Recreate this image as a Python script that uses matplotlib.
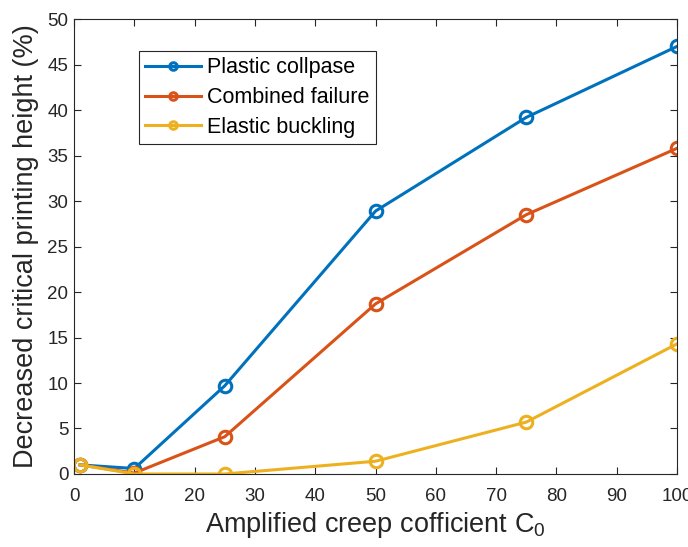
import numpy as np
import matplotlib
matplotlib.use("Agg")
import matplotlib.pyplot as plt

plt.rcParams['font.family'] = ['Liberation Sans', 'DejaVu Sans']
plt.rcParams['mathtext.fontset'] = 'custom'
plt.rcParams['mathtext.rm'] = 'Liberation Sans'

c0 = [1, 10, 25, 50, 75, 100]
plastic = [1.0, 0.6, 9.7, 28.9, 39.2, 47.0]
combined = [1.0, 0.1, 4.1, 18.7, 28.5, 35.8]
elastic = [1.0, 0.0, 0.0, 1.4, 5.7, 14.3]

labels = ["Plastic collpase", "Combined failure", "Elastic buckling"]
colors = ['#0072BD', '#D95319', '#EDB120']

fig = plt.figure(figsize=(6.88, 5.47), dpi=100)
ax = fig.add_axes([0.1076, 0.1335, 0.8764, 0.8315])

for y, lab, col in zip([plastic, combined, elastic], labels, colors):
    ax.plot(c0, y, '-o', color=col, lw=2.2, ms=9, mfc='none', mew=2.2, label=lab)

ax.set_xlim(0, 100)
ax.set_ylim(0, 50)
ax.set_xticks(np.arange(0, 101, 10))
ax.set_yticks(np.arange(0, 51, 5))
ax.tick_params(direction='in', top=True, right=True, length=5, width=0.8,
               labelsize=13.5, colors='#262626', pad=4)
ax.tick_params(axis='x', pad=10)
for s in ax.spines.values():
    s.set_color('#262626')
    s.set_linewidth(0.8)

ax.set_xlabel(r'Amplified creep cofficient C$_{\mathrm{0}}$', fontsize=19.5, color='#262626', labelpad=4)
ax.set_ylabel('Decreased critical printing height (%)', fontsize=19.5, color='#262626', labelpad=6)

leg = ax.legend(loc='upper left', bbox_to_anchor=(0.107, 0.93), fontsize=15.5,
                fancybox=False, edgecolor='#262626', framealpha=1,
                handlelength=2.6, markerscale=0.6, borderpad=0.3, labelspacing=0.4,
                handletextpad=0.3, borderaxespad=0)
leg.get_frame().set_linewidth(0.8)

fig.savefig("out.png", dpi=100)
